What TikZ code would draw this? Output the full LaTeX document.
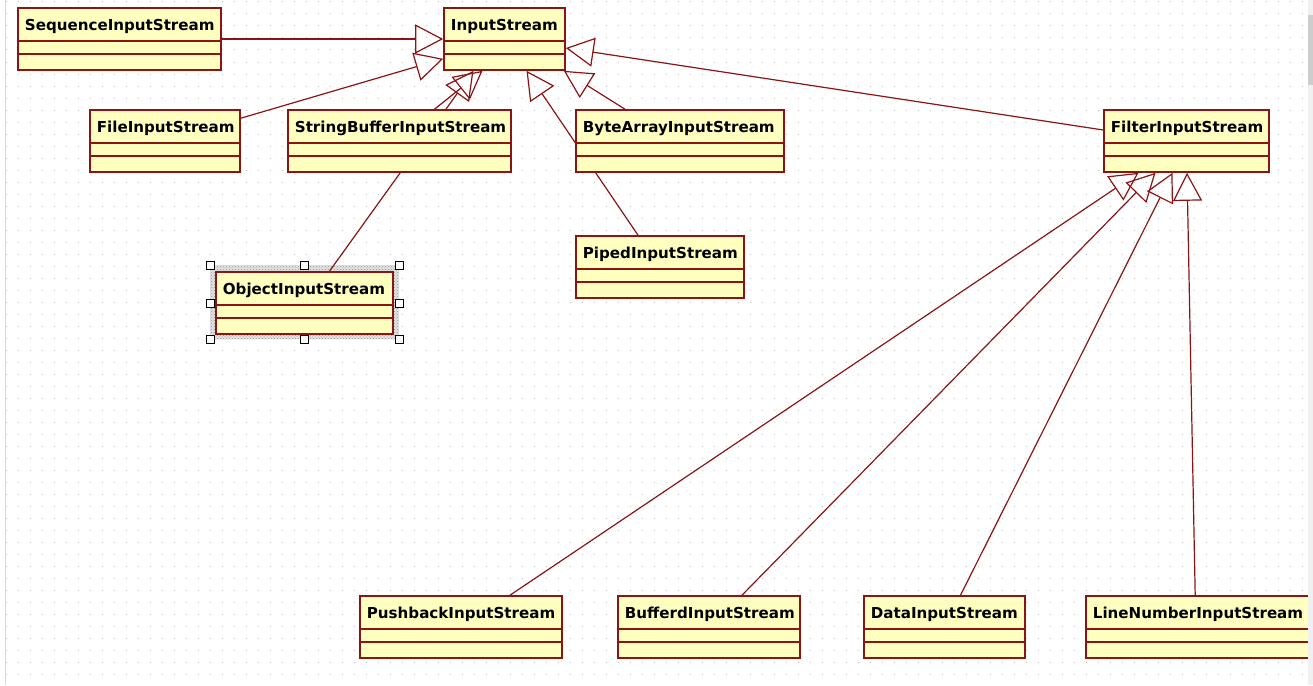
\documentclass[tikz,border=0pt]{standalone}
\usepackage{fontspec}
\setsansfont{DejaVu Sans}
\usetikzlibrary{arrows.meta,fit,patterns,calc}
\definecolor{boxfill}{RGB}{255,255,192}
\definecolor{edgec}{RGB}{140,20,20}
\definecolor{dotc}{RGB}{195,195,195}
\definecolor{sbar}{RGB}{240,240,240}
\definecolor{sthumb}{RGB}{205,205,205}
\pgfdeclarelayer{grid}
\pgfdeclarelayer{lines}
\pgfsetlayers{grid,lines,main}
\newcommand\umlclass[6]{%
  \node[clsbox, fit={(#2,#3) (#4,#5)}] (#1) {};
  \draw[sepline] ([yshift=-34pt]#1.north west) -- ([yshift=-34pt]#1.north east);
  \draw[sepline] ([yshift=-47pt]#1.north west) -- ([yshift=-47pt]#1.north east);
  \node[lbl] (#1-t) at ([xshift=7.5pt,yshift=-23pt]#1.north west) {#6};
}
\begin{document}
\begin{tikzpicture}[x=1pt,y=-1pt,
  clsbox/.style={draw=edgec, fill=boxfill, line width=1.6pt, inner sep=0pt},
  sepline/.style={draw=edgec, line width=1.6pt},
  lbl/.style={font=\sffamily\bfseries\fontsize{15.1}{18}\selectfont, anchor=base west, inner sep=0pt, text=black},
  gen/.style={draw=edgec, line width=1.2pt, -{Triangle[open, length=28pt, width=29pt]}},
  handle/.style={draw=black, fill=white, line width=0.9pt, minimum size=8pt, inner sep=0pt}]
\useasboundingbox (0,0) rectangle (1313,685);

\begin{pgfonlayer}{grid}
  \fill[white] (0,0) rectangle (1313,685);
  \foreach \y in {2,14,...,685}
    \draw[dotc, line width=1pt, dash pattern=on 1pt off 11pt] (5.5,\y) -- (1313,\y);
  \draw[color={rgb,255:red,215;green,215;blue,215}, line width=1pt] (5,0) -- (5,685);
  % selection frame
  \fill[gray!22] (210,265) rectangle (399,339);
  \fill[pattern=crosshatch dots, pattern color=gray!85] (210,265) rectangle (399,339);
\end{pgfonlayer}

\umlclass{seq}{18}{8}{221}{70}{SequenceInputStream}
\umlclass{inp}{444}{8}{565}{70}{InputStream}
\umlclass{file}{90}{110}{240}{172}{FileInputStream}
\umlclass{sb}{288}{110}{511}{172}{StringBufferInputStream}
\umlclass{ba}{576}{110}{784}{172}{ByteArrayInputStream}
\umlclass{fil}{1104}{110}{1269}{172}{FilterInputStream}
\umlclass{pip}{576}{236}{744}{298}{PipedInputStream}
\umlclass{obj}{216}{272}{393}{334}{ObjectInputStream}
\umlclass{pb}{360}{596}{562}{658}{PushbackInputStream}
\umlclass{bf}{618}{596}{800}{658}{BufferdInputStream}
\umlclass{dat}{864}{596}{1025}{658}{DataInputStream}
\umlclass{ln}{1086}{596}{1330}{658}{LineNumberInputStream}

% selection handles
\foreach \hx/\hy [count=\i] in {210/265,304/265,399/265,210/303,399/303,210/339,304/339,399/339}
  \node[handle] (h\i) at (\hx,\hy) {};

\begin{pgfonlayer}{lines}
  \draw[gen] (seq.east) -- (inp.west);
  \draw[gen] ([yshift=-9pt]file.north east) -- ([yshift=12pt]inp.south west);
  \draw[gen] ([xshift=35pt]sb.north) -- ([xshift=-22pt]inp.south);
  \draw[gen] ([xshift=25pt]obj.north) -- ([xshift=-31pt]inp.south);
  \draw[gen] ([xshift=-22pt]pip.north) -- ([xshift=22pt]inp.south);
  \draw[gen] ([xshift=-55pt]ba.north) -- ([xshift=-2pt]inp.south east);
  \draw[gen] ([yshift=11pt]fil.west) -- ([yshift=-9pt]inp.east);
  \draw[gen] ([xshift=49pt]pb.north) -- ([xshift=-48pt]fil.south);
  \draw[gen] ([xshift=33pt]bf.north) -- ([xshift=-31pt]fil.south);
  \draw[gen] ([xshift=16pt]dat.north) -- ([xshift=-14pt]fil.south);
  \draw[gen] ([xshift=110pt]ln.north west) -- ([xshift=0.5pt]fil.south);
\end{pgfonlayer}

% scrollbar strip
\fill[sbar] (1308,0) rectangle (1313,685);
\fill[sthumb] (1308,15) rectangle (1313,85);
\end{tikzpicture}
\end{document}
